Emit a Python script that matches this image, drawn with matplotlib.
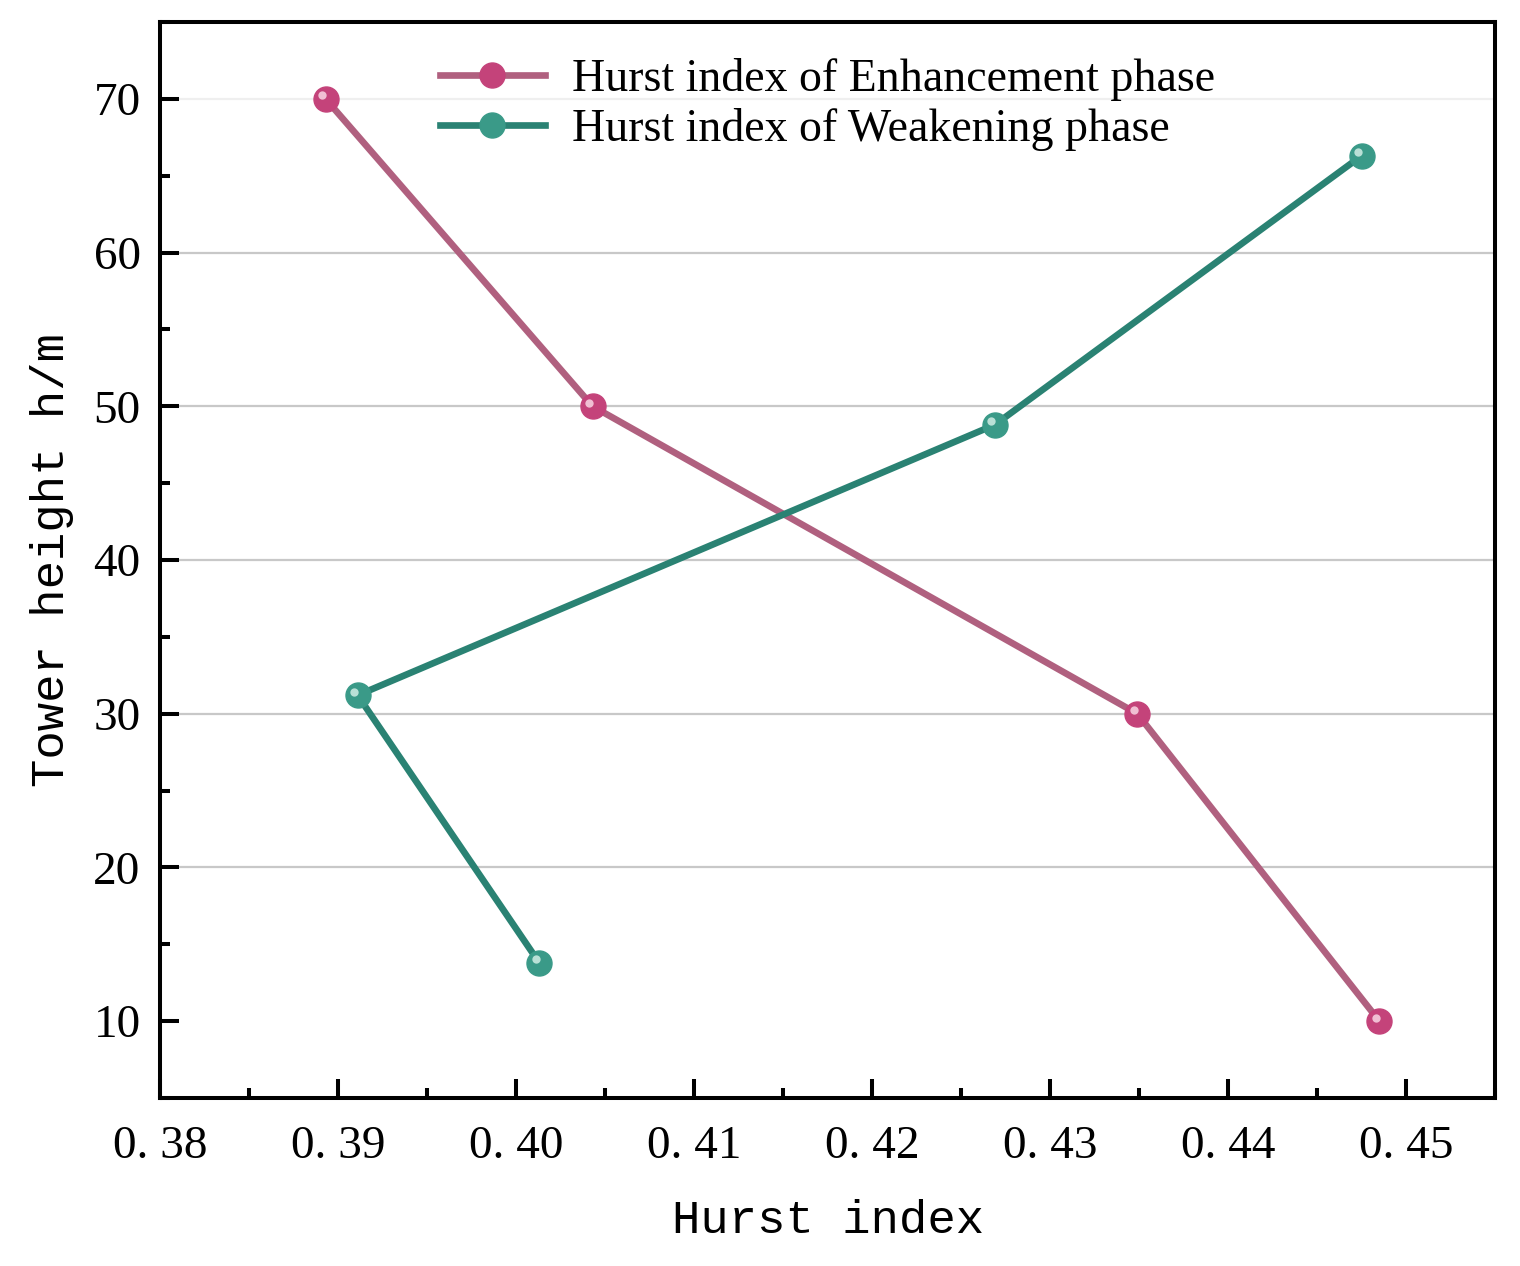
import matplotlib
matplotlib.use("Agg")
import matplotlib.pyplot as plt
from matplotlib.ticker import MultipleLocator, FuncFormatter
from matplotlib.transforms import offset_copy

# Hurst index vs tower height
enh_hurst = [0.3893, 0.4043, 0.4349, 0.4485]
enh_height = [70, 50, 30, 10]
weak_hurst = [0.4013, 0.3911, 0.4269, 0.4475]
weak_height = [13.8, 31.2, 48.8, 66.3]

enh_label = "Hurst index of Enhancement phase"
weak_label = "Hurst index of Weakening phase"
x_label = "Hurst index"
y_label = "Tower height h/m"

fig = plt.figure(figsize=(15.2, 12.66), dpi=100)
ax = fig.add_axes([0.1053, 0.1327, 0.8783, 0.8499])

ax.plot(enh_hurst, enh_height, color="#b0607f", lw=4.8, marker="o", ms=18,
        mfc="#c4437a", mec="#c4437a", label=enh_label, zorder=3)
ax.plot(weak_hurst, weak_height, color="#2a8273", lw=4.8, marker="o", ms=18,
        mfc="#3a9a88", mec="#3a9a88", label=weak_label, zorder=3)
# highlight on the balls, shifted up-left
hl = offset_copy(ax.transData, fig=fig, x=-2.5, y=2.5, units="points")
ax.plot(enh_hurst, enh_height, ls="none", marker="o", ms=6, mfc="#f0bfd3", mec="none",
        transform=hl, zorder=4)
ax.plot(weak_hurst, weak_height, ls="none", marker="o", ms=6, mfc="#b9e0d6", mec="none",
        transform=hl, zorder=4)

ax.set_xlim(0.38, 0.455)
ax.set_ylim(5, 75)
ax.xaxis.set_major_locator(MultipleLocator(0.01))
ax.xaxis.set_minor_locator(MultipleLocator(0.005))
ax.yaxis.set_major_locator(MultipleLocator(10))
ax.yaxis.set_minor_locator(MultipleLocator(5))
ax.xaxis.set_major_formatter(FuncFormatter(lambda v, p: "0. {:02d}".format(int(round(v * 100)) % 100)))
ax.yaxis.set_major_formatter(FuncFormatter(lambda v, p: "{:d}".format(int(round(v)))))

ax.tick_params(which="both", direction="in", width=2.9, top=False, right=False,
               labelsize=34)
ax.tick_params(axis="x", pad=20)
ax.tick_params(axis="y", pad=14)
ax.tick_params(which="major", length=14)
ax.tick_params(which="minor", length=7)
for lab in ax.get_xticklabels() + ax.get_yticklabels():
    lab.set_family("Liberation Serif")
for s in ax.spines.values():
    s.set_linewidth(2.9)

for yv in [20, 30, 40, 50, 60]:
    ax.axhline(yv, color="#c8c8c8", lw=1.6, zorder=1)
ax.axhline(70, color="#efefef", lw=1.6, zorder=1)

ax.set_xlabel(x_label, family="Liberation Mono", fontsize=34, labelpad=22)
ax.set_ylabel(y_label, family="Liberation Mono", fontsize=34, labelpad=14)

leg = ax.legend(loc="upper center", bbox_to_anchor=(0.5, 1.005), frameon=False,
                prop={"family": "Liberation Serif", "size": 33},
                handlelength=2.3, handletextpad=0.6, labelspacing=0.15)

fig.savefig("out.png", dpi=100)
